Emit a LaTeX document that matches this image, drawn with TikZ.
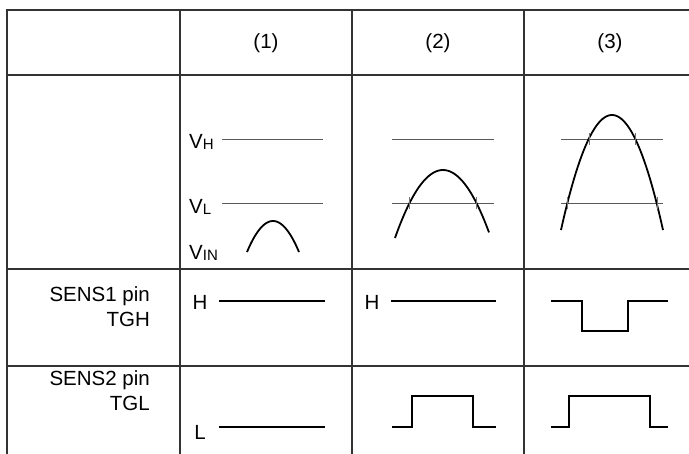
\documentclass[tikz,border=0pt]{standalone}
\usepackage{fontspec}
\setmainfont{Liberation Sans}
\begin{document}
\begin{tikzpicture}[x=1pt,y=-1pt,
  grid/.style={line width=1.4pt, draw=black!80},
  ref/.style={line width=0.8pt, draw=black!65},
  curve/.style={line width=1.8pt, black},
  wave/.style={line width=1.5pt, black, line join=miter},
  tickm/.style={line width=0.8pt, draw=black!55},
  lbl/.style={font=\fontsize{20.5}{24}\selectfont, inner sep=0pt},
]
\useasboundingbox (0,0) rectangle (689,454);
% table grid
\draw[grid] (689,10) -- (7,10) -- (7,454);
\draw[grid] (7,75) -- (689,75);
\draw[grid] (7,269) -- (689,269);
\draw[grid] (7,366) -- (689,366);
\draw[grid] (180,10) -- (180,454);
\draw[grid] (352,10) -- (352,454);
\draw[grid] (524,10) -- (524,454);
% header
\node[lbl] (h1) at (266,43) {(1)};
\node[lbl] (h2) at (438,43) {(2)};
\node[lbl] (h3) at (610,43) {(3)};
% row labels
\node[lbl, anchor=east] (s1a) at (150,296) {SENS1 pin};
\node[lbl, anchor=east] (s1b) at (150,319) {TGH};
\node[lbl, anchor=east] (s2a) at (150,380) {SENS2 pin};
\node[lbl, anchor=east] (s2b) at (150,403) {TGL};
% column 1 levels
\node[lbl, anchor=west] (vh) at (189,142) {V\raisebox{-1pt}{\fontsize{15}{15}\selectfont H}};
\node[lbl, anchor=west] (vl) at (189,207) {V\raisebox{-1pt}{\fontsize{15}{15}\selectfont L}};
\node[lbl, anchor=west] (vin) at (189,253) {V\raisebox{-1pt}{\fontsize{15}{15}\selectfont IN}};
\draw[ref] (222,139) -- (323,139);
\draw[ref] (222,203) -- (323,203);
\draw[curve] plot[domain=247:299, samples=30] (\x, {221 + 0.0459*(\x-273)*(\x-273)});
% column 2 levels
\draw[ref] (392,139) -- (494,139);
\draw[ref] (392,203) -- (494,203);
\draw[curve] plot[domain=395:489, samples=40] (\x, {170 + 0.0295*(\x-443)*(\x-443)});
\draw[tickm] (409.6,197) -- (409.6,209);
\draw[tickm] (476.4,197) -- (476.4,209);
% column 3 levels
\draw[ref] (561,139) -- (663,139);
\draw[ref] (561,203) -- (663,203);
\draw[curve] plot[domain=561:663, samples=50] (\x, {115 + 0.0442*(\x-612)*(\x-612)});
\draw[tickm] (589,133) -- (589,145);
\draw[tickm] (635,133) -- (635,145);
\draw[tickm] (567,197) -- (567,209);
\draw[tickm] (657,197) -- (657,209);
% SENS1 row
\node[lbl] (hA) at (200,302) {H};
\draw[wave] (219,301) -- (325,301);
\node[lbl] (hB) at (372,302) {H};
\draw[wave] (391,301) -- (496,301);
\draw[wave] (551,301) -- (582,301) -- (582,331) -- (628,331) -- (628,301) -- (668,301);
% SENS2 row
\node[lbl] (lA) at (200,432) {L};
\draw[wave] (219,427) -- (325,427);
\draw[wave] (392,427) -- (412,427) -- (412,396) -- (473,396) -- (473,427) -- (496,427);
\draw[wave] (551,427) -- (569,427) -- (569,396) -- (650,396) -- (650,427) -- (668,427);
\end{tikzpicture}
\end{document}
